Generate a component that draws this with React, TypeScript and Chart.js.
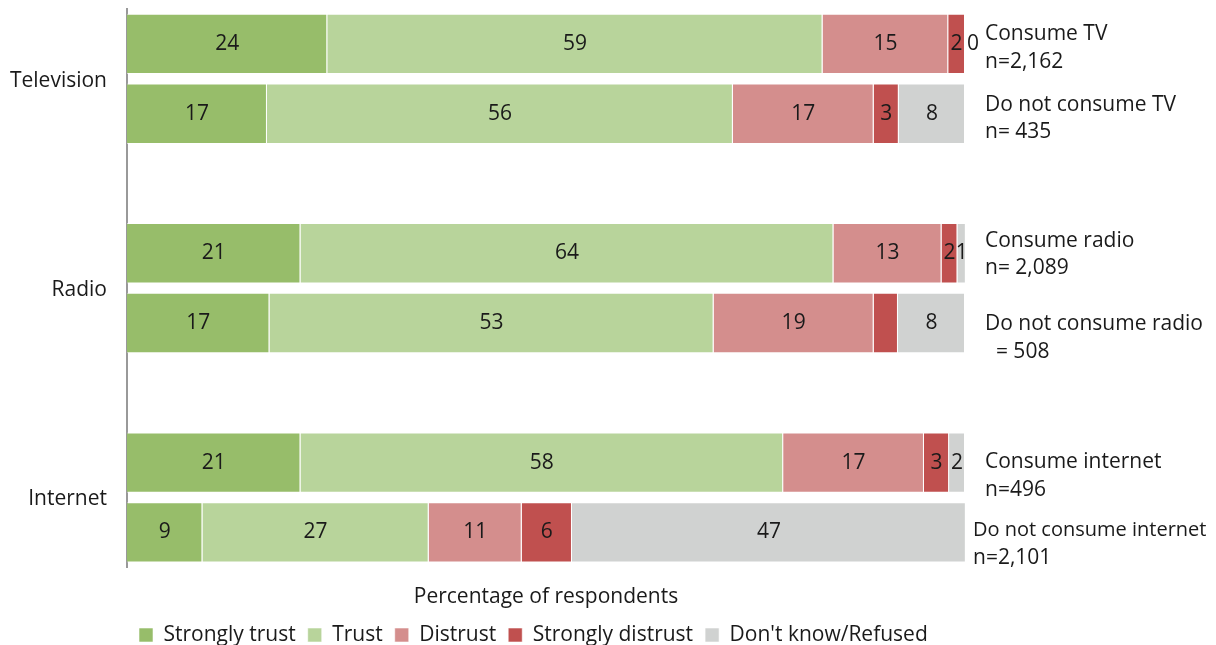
import React, { useEffect, useRef } from "react";
import { Chart, registerables } from "chart.js";

Chart.register(...registerables);

// ---- data ----
const rows = ["tv1", "tv2", "gap1", "radio1", "radio2", "gap2", "net1", "net2"];
const groupLabels = ["Television", "Radio", "Internet"];
const groupRows = [[0, 1], [3, 4], [6, 7]];
const rightLabels: (string[] | null)[] = [
  ["Consume TV", "n=2,162"],
  ["Do not consume TV", "n= 435"],
  null,
  ["Consume radio", "n= 2,089"],
  ["Do not consume radio", "  = 508"],
  null,
  ["Consume internet", "n=496"],
  ["Do not consume internet", "n=2,101"],
];
const seriesNames = ["Strongly trust", "Trust", "Distrust", "Strongly distrust", "Don't know/Refused"];
const stronglyTrust = [23.9, 16.7, null, 20.7, 17.0, null, 20.7, 9.0];
const trust = [59.1, 55.6, null, 63.6, 53.0, null, 57.6, 27.0];
const distrust = [15.0, 16.8, null, 12.9, 19.1, null, 16.8, 11.1];
const stronglyDistrust = [2.0, 3.0, null, 1.9, 2.9, null, 3.0, 6.0];
const dontKnow = [0.0, 7.9, null, 1.0, 8.0, null, 1.9, 47.0];
const hiddenLabels = [[3, 4]]; // [dataset, row] labels not shown

const colors = ["#97BD6A", "#B8D49B", "#D48E8D", "#C0504F", "#D0D2D1"];
const FONT = '"Open Sans", sans-serif';

const labelPlugin = {
  id: "customLabels",
  afterDatasetsDraw(chart: any) {
    const ctx = chart.ctx;
    const yScale = chart.scales.y;
    ctx.save();
    ctx.fillStyle = "#1a1a1a";
    ctx.font = `21px ${FONT}`;
    ctx.textBaseline = "middle";
    // values in segments
    ctx.textAlign = "center";
    chart.data.datasets.forEach((ds: any, di: number) => {
      const meta = chart.getDatasetMeta(di);
      meta.data.forEach((bar: any, i: number) => {
        const v = ds.data[i];
        if (v === null || v === undefined) return;
        if (hiddenLabels.some(([d, r]) => d === di && r === i)) return;
        const x = v === 0 ? bar.x + 8 : (bar.x + bar.base) / 2;
        ctx.fillText(String(Math.round(v)), x, bar.y);
      });
    });
    // group labels on the left
    ctx.textAlign = "right";
    groupLabels.forEach((g, gi) => {
      const [a, b] = groupRows[gi];
      const y = (yScale.getPixelForValue(a) + yScale.getPixelForValue(b)) / 2 + 2;
      ctx.fillText(g, chart.chartArea.left - 20, y);
    });
    // right labels
    ctx.textAlign = "left";
    const offsets = [[-10, 18], [-9, 18], null, [-12, 15], [1, 29], null, [-1, 27], [-2, 26]];
    const xs = [985, 985, 0, 985, 985, 0, 985, 973];
    const sizes = [21, 21, 21, 21, 21, 21, 21, 20];
    rightLabels.forEach((lines, i) => {
      if (!lines) return;
      const y = yScale.getPixelForValue(i);
      const off = offsets[i] as number[];
      lines.forEach((t, li) => {
        ctx.font = `${li === 0 ? sizes[i] : 21}px ${FONT}`;
        ctx.fillText(t, xs[i], y + off[li]);
      });
    });
    ctx.restore();
  },
};

export default function App() {
  const ref = useRef<HTMLCanvasElement>(null);
  useEffect(() => {
    document.body.style.margin = "0";
    const values = [stronglyTrust, trust, distrust, stronglyDistrust, dontKnow];
    const chart = new Chart(ref.current as HTMLCanvasElement, {
      type: "bar",
      data: {
        labels: rows,
        datasets: seriesNames.map((n, i) => ({
          label: n,
          data: values[i] as any,
          backgroundColor: colors[i],
          borderColor: "rgba(255,255,255,0.55)",
          borderWidth: 1,
          barPercentage: 0.866,
          categoryPercentage: 1,
        })),
      },
      options: {
        indexAxis: "y",
        animation: false,
        responsive: false,
        maintainAspectRatio: false,
        layout: { padding: { top: 9, right: 251, left: 119, bottom: -10.5 } },
        scales: {
          x: {
            stacked: true,
            min: 0,
            max: 100,
            ticks: { display: false },
            grid: { display: false },
            border: { display: false },
            title: {
              display: true,
              text: "Percentage of respondents",
              color: "#1a1a1a",
              font: { family: FONT, size: 21 },
              padding: { top: 9, bottom: 3 },
            },
          },
          y: {
            stacked: true,
            ticks: { display: false },
            grid: { display: false },
            border: { display: true, color: "#999999", width: 2 },
          },
        },
        plugins: {
          tooltip: { enabled: false },
          legend: {
            position: "bottom",
            fullSize: false,
            align: "start",
            labels: {
              boxWidth: 14,
              boxHeight: 14,
              padding: 12,
              color: "#1a1a1a",
              font: { family: FONT, size: 21 },
            },
          },
        },
      },
      plugins: [labelPlugin],
    });
    return () => chart.destroy();
  }, []);
  return (
    <div style={{ width: 1216, height: 645 }}>
      <canvas ref={ref} width={1216} height={645} />
    </div>
  );
}
